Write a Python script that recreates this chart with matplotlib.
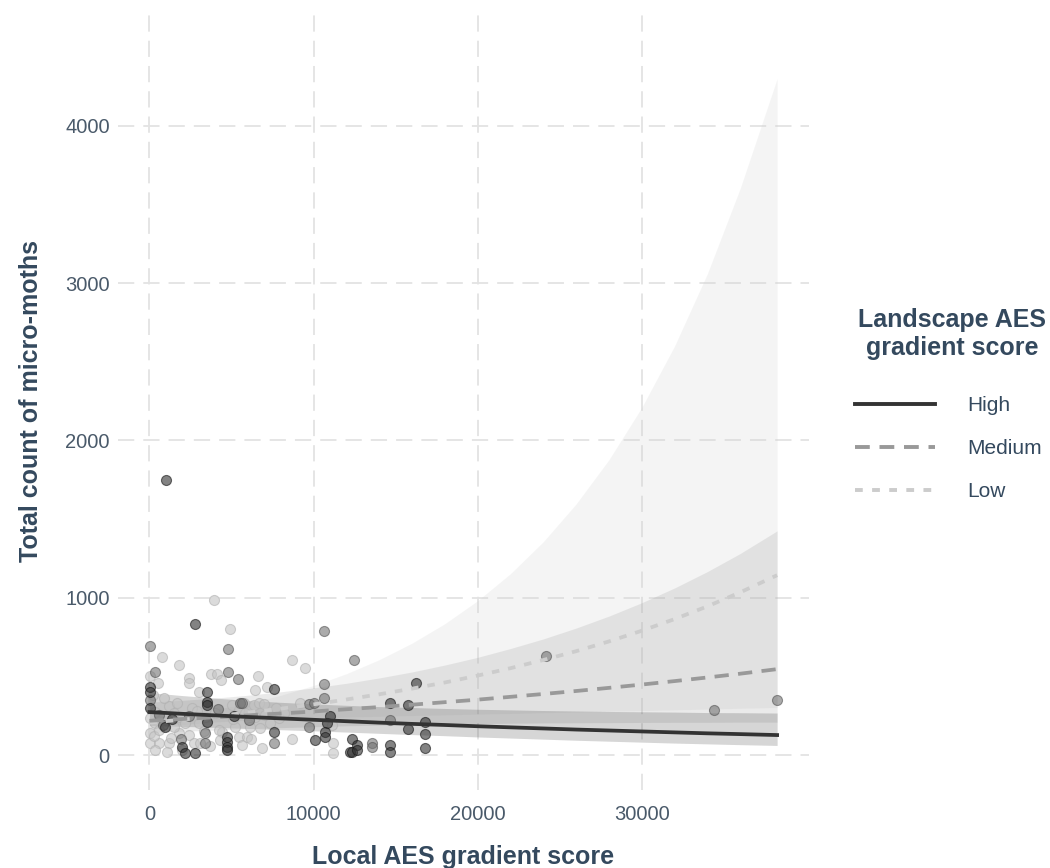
import matplotlib
matplotlib.use("Agg")
import matplotlib.pyplot as plt
from matplotlib.lines import Line2D

plt.rcParams["font.family"] = ["Liberation Sans", "DejaVu Sans"]

# ---- observations: local AES gradient score vs total micro-moth count ----
high_x = [1000, 2800, 60, 60, 3500, 3500, 3500, 975, 3510, 1990, 2150, 2800,
          4730, 4730, 4730, 4730, 5130, 7570, 10980, 10800, 10720, 10720,
          10110, 7570, 12240, 16260, 14640, 15730, 15730, 16810, 16810, 16810,
          12340, 12650, 12340, 12650, 14640, 14640, 60, 1400]
high_y = [1750, 830, 430, 400, 400, 335, 320, 180, 212, 53, 11, 15,
          116, 80, 50, 32, 248, 418, 250, 201, 148, 116,
          95, 148, 21, 456, 329, 318, 163, 212, 134, 43,
          100, 64, 21, 32, 64, 21, 300, 230]

medium_x = [60, 4770, 4770, 5380, 365, 60, 3410, 3410, 5540, 570, 1900,
            10620, 10620, 10620, 9700, 10050, 9740, 7570, 12490, 14640,
            13560, 13560, 24160, 34390, 38250, 5640, 6050, 2400, 4200, 800]
medium_y = [693, 674, 526, 481, 530, 353, 74, 138, 329, 255, 105,
            790, 449, 360, 322, 332, 180, 78, 604, 222,
            74, 53, 629, 286, 350, 329, 222, 250, 290, 190]

low_x = [3960, 4890, 770, 1790, 60, 550, 2400, 2400, 3780, 4130, 4390, 3000,
         365, 60, 365, 60, 60, 570, 1180, 365, 1790, 2190, 3000, 1790, 2400,
         2700, 3100, 4020, 4430, 4320, 5030, 5440, 5240, 5440, 5650, 1180,
         1480, 4230, 8690, 9460, 6600, 6410, 7170, 8690, 6860, 11200, 11190,
         5740, 6350, 6660, 6960, 5850, 6460, 7060, 6150, 6760, 7370, 7870,
         5950, 900, 1500, 2000, 2600, 3300, 4700, 6200, 7700, 250, 1100,
         3700, 5100, 8200, 9200, 11100, 600, 1300, 2900, 200, 1700, 3400]
low_y = [985, 801, 621, 572, 500, 460, 490, 455, 515, 515, 475, 400,
         275, 233, 201, 138, 74, 74, 74, 32, 244, 201, 201, 138, 127,
         74, 78, 265, 148, 95, 318, 286, 180, 116, 64, 310,
         270, 160, 604, 555, 504, 413, 434, 102, 43, 74, 11,
         329, 318, 332, 324, 265, 244, 254, 180, 170, 201, 233,
         116, 360, 180, 30, 300, 150, 40, 100, 300, 120, 20,
         60, 230, 270, 330, 190, 160, 110, 280, 380, 330, 240]

# ---- fitted trends and confidence bands per landscape class ----
fit_x = [0, 2000, 4000, 6000, 8000, 10000, 12000, 14000, 16000, 18000, 20000,
         22000, 24000, 26000, 28000, 30000, 32000, 34000, 36000, 38250]

high_fit = [273, 262, 252, 242, 233, 224, 215, 206, 198, 191, 183,
            176, 169, 162, 156, 150, 144, 138, 133, 127]
high_lo = [188, 182, 176, 169, 161, 154, 146, 138, 130, 123, 115,
           108, 101, 94, 88, 82, 76, 71, 66, 61]
high_hi = [397, 378, 362, 347, 335, 325, 316, 308, 302, 296, 291,
           287, 283, 280, 277, 275, 273, 270, 269, 267]

medium_fit = [218, 229, 240, 252, 264, 277, 291, 305, 320, 336, 352,
              370, 388, 407, 427, 448, 470, 493, 517, 546]
medium_lo = [142, 151, 159, 167, 174, 180, 186, 190, 194, 197, 200,
             202, 204, 205, 206, 207, 208, 208, 209, 209]
medium_hi = [336, 348, 362, 380, 402, 427, 456, 490, 528, 572, 621,
             677, 738, 807, 883, 968, 1062, 1166, 1281, 1425]

low_fit = [206, 225, 246, 270, 295, 322, 353, 386, 422, 461, 505,
           552, 604, 660, 722, 790, 864, 945, 1034, 1143]
low_lo = [173, 194, 210, 221, 229, 235, 241, 246, 251, 255, 260,
          264, 269, 273, 278, 282, 287, 292, 297, 302]
low_hi = [246, 262, 289, 329, 380, 442, 517, 606, 711, 835, 981,
          1153, 1356, 1596, 1877, 2209, 2600, 3060, 3602, 4300]

x_ticks = [0, 10000, 20000, 30000]
y_ticks = [0, 1000, 2000, 3000, 4000]
class_labels = ["High", "Medium", "Low"]

text_col = "#34495e"
tick_col = "#4a5a6a"

fig = plt.figure(figsize=(10.5, 8.68), dpi=100)
ax = fig.add_axes([0.1124, 0.0899, 0.6576, 0.8963])

# bands
ax.fill_between(fit_x, low_lo, low_hi, color="#cccccc", alpha=0.2, lw=0, zorder=1)
ax.fill_between(fit_x, medium_lo, medium_hi, color="#999999", alpha=0.2, lw=0, zorder=1)
ax.fill_between(fit_x, high_lo, high_hi, color="#333333", alpha=0.2, lw=0, zorder=1)

# points
ax.scatter(low_x, low_y, s=52, color="#c4c4c4", alpha=0.6, edgecolor="#b0b0b0",
           linewidth=0.8, zorder=2)
ax.scatter(medium_x, medium_y, s=52, color="#737373", alpha=0.6, edgecolor="#555555",
           linewidth=0.8, zorder=2)
ax.scatter(high_x, high_y, s=52, color="#303030", alpha=0.6, edgecolor="#151515",
           linewidth=0.8, zorder=2)

# trend lines
ax.plot(fit_x, low_fit, color="#cccccc", lw=2.7, dashes=(2.0, 2.4), zorder=3)
ax.plot(fit_x, medium_fit, color="#999999", lw=2.7, dashes=(3.8, 2.5), zorder=3)
ax.plot(fit_x, high_fit, color="#333333", lw=2.7, zorder=3)

ax.set_xlim(-1912, 40162)
ax.set_ylim(-222, 4723)
ax.set_xticks(x_ticks)
ax.set_yticks(y_ticks)
ax.tick_params(length=0, labelsize=14.5, labelcolor=tick_col)
ax.tick_params(axis="y", pad=6)
ax.tick_params(axis="x", pad=11)
for s in ax.spines.values():
    s.set_visible(False)
ax.grid(True, color="#e3e3e3", lw=1.3, dashes=(9, 5))
ax.set_axisbelow(True)

ax.set_xlabel("Local AES gradient score", fontsize=18, fontweight="bold",
              color=text_col, labelpad=15)
ax.set_ylabel("Total count of micro-moths", fontsize=18, fontweight="bold",
              color=text_col, labelpad=16)

# legend: title as its own text, entries below it
fig.text(952 / 1050, 1 - 334 / 868, "Landscape AES\ngradient score",
         ha="center", va="center", multialignment="center",
         fontsize=18, fontweight="bold", color=text_col, linespacing=1.25)
handles = [
    Line2D([], [], color="#333333", lw=2.8),
    Line2D([], [], color="#999999", lw=2.8, dashes=(3.8, 2.5)),
    Line2D([], [], color="#cccccc", lw=2.8, dashes=(2.0, 2.4)),
]
leg = fig.legend(handles, class_labels, loc="upper left",
                 bbox_to_anchor=(855 / 1050, 1 - 396 / 868), frameon=False,
                 fontsize=15, borderpad=0, borderaxespad=0,
                 handlelength=3.85, handletextpad=1.55, labelspacing=1.15)
for t in leg.get_texts():
    t.set_color(text_col)

fig.savefig("out.png", dpi=100)
